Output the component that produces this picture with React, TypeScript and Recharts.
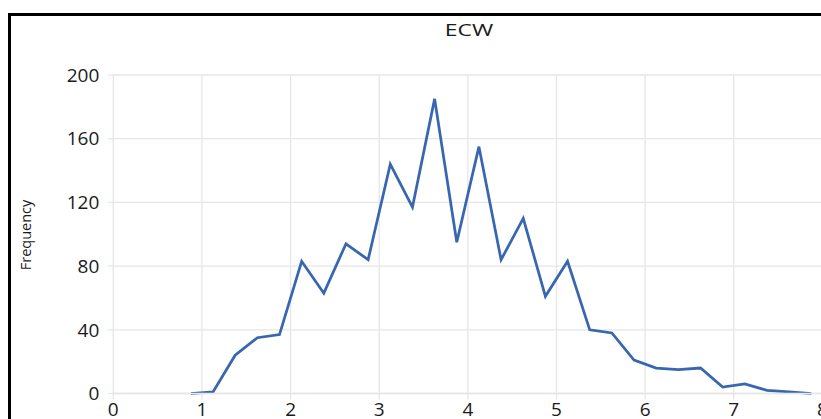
import React from "react"
import {
	LineChart,
	Line,
	XAxis,
	YAxis,
	CartesianGrid
} from "recharts"

// bin centres and counts
const ecwValues = [
	0.875, 1.125, 1.375, 1.625, 1.875, 2.125, 2.375, 2.625, 2.875, 3.125,
	3.375, 3.625, 3.875, 4.125, 4.375, 4.625, 4.875, 5.125, 5.375, 5.625,
	5.875, 6.125, 6.375, 6.625, 6.875, 7.125, 7.375, 7.625, 7.875
]
const frequency = [
	0, 1, 24, 35, 37, 83, 63, 94, 84, 144,
	117, 185, 95, 155, 84, 110, 61, 83, 40, 38,
	21, 16, 15, 16, 4, 6, 2, 1, 0
]
const xTicks = [0, 1, 2, 3, 4, 5, 6, 7, 8]
const yTicks = [0, 40, 80, 120, 160, 200]

const data = ecwValues.map((x, i) => ({ x, freq: frequency[i] }))

const FONT = "'Open Sans', sans-serif"
const GRID = "#e6e6e6"

export default function App() {
	return (
		<div
			style={{
				position: "fixed",
				left: 0,
				top: 0,
				width: 821,
				height: 419,
				overflow: "hidden",
				background: "#fff",
				fontFamily: FONT
			}}
		>
			{/* frame, only top and left edges show */}
			<div
				style={{
					position: "absolute",
					left: 8,
					top: 13,
					width: 900,
					height: 500,
					border: "3px solid #000",
					boxSizing: "border-box"
				}}
			/>

			<div
				style={{
					position: "absolute",
					left: 468.5,
					top: 18,
					fontSize: 17,
					color: "#1a1a1a",
					transform: "translateX(-50%) scaleX(1.35)",
					whiteSpace: "nowrap"
				}}
			>
				ECW
			</div>

			<div
				style={{
					position: "absolute",
					left: 25,
					top: 235,
					fontSize: 14.5,
					color: "#1a1a1a",
					transform: "translate(-50%, -50%) rotate(-90deg)",
					whiteSpace: "nowrap"
				}}
			>
				Frequency
			</div>

			<div style={{ position: "absolute", left: 0, top: 0 }}>
				<LineChart
					width={860}
					height={440}
					data={data}
					margin={{ top: 75, right: 37.6, bottom: 16.5, left: 0 }}
				>
					<CartesianGrid stroke={GRID} strokeWidth={1.3} />
					<XAxis
						dataKey="x"
						type="number"
						domain={[0, 8]}
						ticks={xTicks}
						height={30}
						axisLine={{ stroke: GRID, strokeWidth: 1.3 }}
						tickLine={{ stroke: GRID, strokeWidth: 1.3 }}
						tickSize={6}
						tickMargin={3}
						tick={{ fill: "#1a1a1a", fontSize: 19, fontFamily: FONT }}
					/>
					<YAxis
						type="number"
						domain={[0, 200]}
						ticks={yTicks}
						width={113.3}
						axisLine={false}
						tickLine={{ stroke: GRID, strokeWidth: 1.3 }}
						tickSize={5}
						tickMargin={9}
						tick={{ fill: "#1a1a1a", fontSize: 19, fontFamily: FONT }}
					/>
					<Line
						type="linear"
						dataKey="freq"
						stroke="#3866b0"
						strokeWidth={2.75}
						dot={false}
						isAnimationActive={false}
					/>
				</LineChart>
			</div>
		</div>
	)
}
